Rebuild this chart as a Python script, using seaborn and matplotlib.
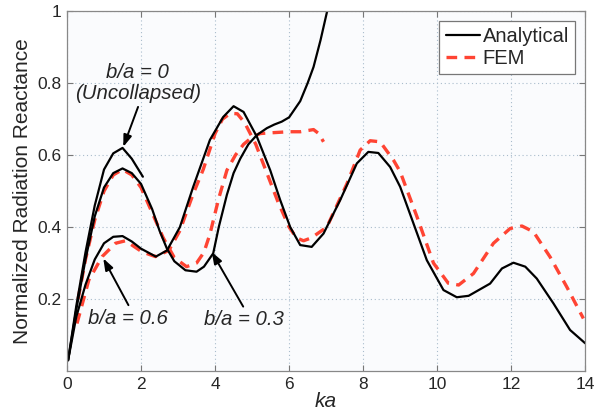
import numpy as np
import pandas as pd
import matplotlib
matplotlib.use("Agg")
import matplotlib.pyplot as plt
import seaborn as sns
from matplotlib.lines import Line2D

# ---- data ----
# Analytical, b/a = 0 (uncollapsed)
an0_x = [0.03, 0.25, 0.5, 0.75, 1.0, 1.25, 1.5, 1.75, 2.05]
an0_y = [0.03, 0.18, 0.33, 0.46, 0.56, 0.605, 0.62, 0.59, 0.54]

# Analytical, b/a = 0.3
an3_x = [0.03, 0.25, 0.5, 0.75, 1.0, 1.25, 1.5, 1.75, 2.0, 2.3, 2.5, 2.7, 2.9, 3.2,
         3.5, 3.7, 3.95, 4.1, 4.32, 4.5, 4.68, 4.9, 5.13, 5.4, 5.6, 5.8, 6.0, 6.3,
         6.5, 6.66, 6.85, 7.05]
an3_y = [0.03, 0.17, 0.31, 0.43, 0.51, 0.55, 0.563, 0.55, 0.52, 0.45, 0.39, 0.34, 0.305, 0.28,
         0.276, 0.29, 0.327, 0.40, 0.49, 0.55, 0.59, 0.63, 0.656, 0.675, 0.685, 0.693, 0.705, 0.75,
         0.80, 0.845, 0.92, 1.01]

# Analytical, b/a = 0.6
an6_x = [0.03, 0.25, 0.5, 0.75, 1.0, 1.25, 1.5, 1.75, 2.0, 2.4, 2.7, 3.05, 3.41, 3.86,
         4.22, 4.5, 4.77, 5.13, 5.49, 5.76, 6.03, 6.3, 6.61, 6.93, 7.38, 7.83, 8.14,
         8.41, 8.73, 9.0, 9.36, 9.72, 10.17, 10.53, 10.85, 11.43, 11.75, 12.06, 12.38,
         12.69, 13.14, 13.59, 14.0]
an6_y = [0.03, 0.15, 0.24, 0.31, 0.355, 0.373, 0.375, 0.36, 0.34, 0.318, 0.335, 0.40, 0.512, 0.642,
         0.706, 0.736, 0.72, 0.651, 0.558, 0.475, 0.40, 0.35, 0.345, 0.382, 0.475, 0.577, 0.609,
         0.606, 0.567, 0.512, 0.41, 0.308, 0.225, 0.205, 0.209, 0.243, 0.285, 0.301, 0.29,
         0.257, 0.188, 0.114, 0.077]

# FEM, b/a = 0.3
fem3_x = [0.3, 0.5, 0.75, 1.0, 1.25, 1.5, 1.75, 2.0, 2.3, 2.6, 2.9, 3.23, 3.5, 3.7, 3.86,
          4.1, 4.32, 4.55, 4.77, 5.0, 5.22, 5.5, 6.0, 6.3, 6.66, 6.8, 6.93]
fem3_y = [0.20, 0.31, 0.42, 0.50, 0.545, 0.56, 0.545, 0.51, 0.44, 0.37, 0.315, 0.29, 0.30, 0.33, 0.38,
          0.48, 0.558, 0.60, 0.63, 0.65, 0.66, 0.662, 0.665, 0.665, 0.671, 0.66, 0.637]

# FEM, b/a = 0.6
fem6_x = [0.27, 0.59, 0.95, 1.31, 1.58, 2.03, 2.39, 2.75, 3.05, 3.4, 3.68, 4.0, 4.2, 4.41,
          4.6, 4.8, 5.1, 5.4, 5.7, 6.0, 6.2, 6.39, 6.6, 7.02, 7.56, 7.92, 8.19, 8.46,
          8.82, 9.0, 9.45, 9.9, 10.3, 10.58, 10.98, 11.52, 11.97, 12.29, 12.6, 13.05,
          13.5, 13.95]
fem6_y = [0.132, 0.253, 0.318, 0.355, 0.362, 0.331, 0.318, 0.335, 0.39, 0.49, 0.56, 0.66, 0.70, 0.716,
          0.715, 0.69, 0.63, 0.55, 0.47, 0.40, 0.37, 0.362, 0.37, 0.40, 0.52, 0.614, 0.64, 0.637,
          0.586, 0.554, 0.43, 0.30, 0.244, 0.239, 0.271, 0.355, 0.396, 0.403, 0.387, 0.317,
          0.234, 0.146]

x_ticks = [0, 2, 4, 6, 8, 10, 12, 14]
y_ticks = [0.2, 0.4, 0.6, 0.8, 1.0]
y_tick_labels = ["0.2", "0.4", "0.6", "0.8", "1"]

BLACK = "#000000"
RED = "#ff4433"

sns.set_style("ticks")
plt.rcParams["font.family"] = ["Liberation Sans", "DejaVu Sans"]

fig = plt.figure(figsize=(6.09, 4.15), dpi=100)
ax = fig.add_axes([0.110, 0.106, 0.851, 0.867])
ax.set_facecolor("#fafbfd")

dash = (3.2, 2.2)
for xs, ys in [(fem3_x, fem3_y), (fem6_x, fem6_y)]:
    df = pd.DataFrame({"ka": xs, "X": ys})
    sns.lineplot(data=df, x="ka", y="X", ax=ax, color=RED, linewidth=2.4,
                 sort=False, estimator=None)
    ax.lines[-1].set_dashes(dash)

for xs, ys in [(an0_x, an0_y), (an3_x, an3_y), (an6_x, an6_y)]:
    df = pd.DataFrame({"ka": xs, "X": ys})
    sns.lineplot(data=df, x="ka", y="X", ax=ax, color=BLACK, linewidth=1.6,
                 sort=False, estimator=None)

ax.set_xlim(0, 14)
ax.set_ylim(0, 1)
ax.set_xticks(x_ticks)
ax.set_xticklabels([str(t) for t in x_ticks])
ax.set_yticks(y_ticks)
ax.set_yticklabels(y_tick_labels)
ax.tick_params(direction="in", length=4, width=0.8, color="#777777",
               top=True, right=True, labelsize=12.5, pad=4)
for s in ax.spines.values():
    s.set_color("#888888")
    s.set_linewidth(0.9)

ax.grid(True, linestyle=(0, (1, 2.5)), color="#a9bccc", linewidth=0.8)
ax.set_axisbelow(True)

ax.set_xlabel("ka", fontsize=15, fontstyle="italic", labelpad=0)
ax.set_ylabel("Normalized Radiation Reactance", fontsize=15, labelpad=4)

# annotations
arrow = dict(arrowstyle="-|>,head_length=0.7,head_width=0.25", color="black", lw=1.4,
             shrinkA=0, shrinkB=0)
ax.annotate("", xy=(1.52, 0.623), xytext=(1.92, 0.734), arrowprops=arrow)
ax.text(1.91, 0.80, "b/a = 0\n(Uncollapsed)", ha="center", va="center",
        fontsize=14.7, fontstyle="italic", linespacing=1.15)
ax.annotate("", xy=(0.98, 0.313), xytext=(1.66, 0.183), arrowprops=arrow)
ax.text(1.65, 0.147, "b/a = 0.6", ha="center", va="center", fontsize=14.7, fontstyle="italic")
ax.annotate("", xy=(3.91, 0.331), xytext=(4.76, 0.179), arrowprops=arrow)
ax.text(4.78, 0.142, "b/a = 0.3", ha="center", va="center", fontsize=14.7, fontstyle="italic")

handles = [Line2D([], [], color=BLACK, lw=1.6),
           Line2D([], [], color=RED, lw=2.4, dashes=dash)]
leg = ax.legend(handles, ["Analytical", "FEM"], loc="upper right", fontsize=14.5,
                fancybox=False, framealpha=1, edgecolor="#777777",
                handlelength=1.7, handletextpad=0.15, borderpad=0.3,
                labelspacing=0.15, borderaxespad=0.5)
leg.get_frame().set_linewidth(0.9)

fig.savefig("out.png", dpi=100)
